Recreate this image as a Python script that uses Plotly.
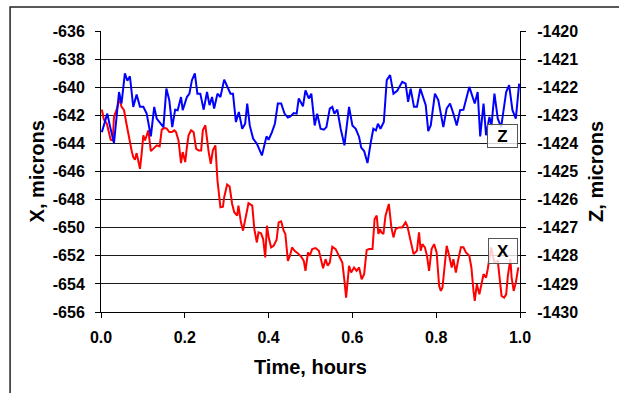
import plotly.graph_objects as go

# ---- data ----
time_x = [0.002, 0.007, 0.014, 0.018, 0.023, 0.028, 0.031, 0.038, 0.044, 0.049,
          0.055, 0.060, 0.065, 0.069, 0.073, 0.077, 0.081, 0.085, 0.089, 0.093,
          0.097, 0.101, 0.105, 0.109, 0.113, 0.119, 0.125, 0.133, 0.140, 0.145,
          0.151, 0.157, 0.163, 0.169, 0.175, 0.179, 0.185, 0.191, 0.195, 0.201,
          0.205, 0.209, 0.215, 0.221, 0.227, 0.233, 0.239, 0.243, 0.249, 0.253,
          0.257, 0.262, 0.267, 0.273, 0.278, 0.285, 0.291, 0.294, 0.301, 0.307,
          0.313, 0.318, 0.325, 0.328, 0.334, 0.339, 0.344, 0.352, 0.361, 0.366,
          0.372, 0.376, 0.382, 0.387, 0.392, 0.396, 0.400, 0.406, 0.412, 0.419,
          0.424, 0.430, 0.436, 0.440, 0.446, 0.451, 0.456, 0.462, 0.470, 0.478,
          0.484, 0.488, 0.494, 0.498, 0.504, 0.512, 0.520, 0.526, 0.530, 0.536,
          0.541, 0.546, 0.552, 0.560, 0.568, 0.576, 0.581, 0.585, 0.592, 0.597,
          0.604, 0.610, 0.616, 0.622, 0.628, 0.634, 0.640, 0.648, 0.653, 0.658,
          0.662, 0.666, 0.669, 0.674, 0.679, 0.687, 0.693, 0.698, 0.703, 0.711,
          0.719, 0.727, 0.731, 0.739, 0.746, 0.754, 0.759, 0.763, 0.767, 0.773,
          0.778, 0.783, 0.789, 0.795, 0.801, 0.807, 0.811, 0.815, 0.821, 0.825,
          0.831, 0.837, 0.841, 0.847, 0.852, 0.859, 0.865, 0.871, 0.879, 0.884,
          0.889, 0.892, 0.897, 0.903, 0.908, 0.913, 0.919, 0.923, 0.931, 0.939,
          0.947, 0.952, 0.956, 0.962, 0.967, 0.971, 0.977, 0.980, 0.985, 0.990,
          0.996]
x_microns = [-641.60, -642.31, -642.60, -643.07, -643.74, -643.79, -642.12, -641.52, -640.81, -641.40,
             -641.64, -642.48, -643.31, -643.67, -644.50, -644.98, -645.17, -644.69, -645.21, -645.81,
             -644.74, -643.43, -643.79, -643.43, -643.07, -644.55, -644.38, -644.14, -644.21, -643.02,
             -642.90, -642.95, -643.19, -643.19, -643.07, -643.19, -643.79, -645.40, -644.62, -645.33,
             -644.26, -643.43, -643.07, -643.19, -644.38, -644.50, -644.50, -643.07, -642.71, -643.91,
             -644.62, -645.45, -644.50, -644.14, -646.64, -648.55, -648.50, -647.83, -646.93, -647.07,
             -648.31, -648.90, -649.14, -648.43, -649.62, -650.21, -649.38, -648.26, -648.43, -650.10,
             -651.05, -650.33, -650.40, -650.81, -652.12, -649.86, -650.64, -651.40, -651.29, -650.88,
             -649.62, -649.55, -650.21, -650.45, -652.36, -652.00, -651.40, -651.64, -651.83, -652.07,
             -652.36, -653.07, -651.76, -652.00, -651.52, -651.45, -651.64, -652.36, -652.88, -652.24,
             -652.71, -652.48, -651.36, -651.52, -652.00, -652.48, -653.79, -654.98, -652.71, -653.19,
             -652.83, -653.07, -652.83, -653.67, -653.31, -651.60, -651.52, -651.52, -649.38, -649.14,
             -650.45, -650.10, -650.33, -650.45, -649.14, -648.31, -649.98, -650.69, -650.10, -649.98,
             -649.98, -649.62, -649.86, -650.93, -651.88, -651.64, -650.33, -651.64, -651.17, -651.40,
             -652.00, -653.07, -651.52, -651.17, -651.76, -654.14, -654.50, -654.26, -652.36, -651.29,
             -652.00, -652.83, -652.24, -653.19, -652.36, -651.40, -651.40, -651.76, -652.00, -652.83,
             -654.50, -655.21, -654.02, -654.74, -654.02, -653.31, -653.55, -652.95, -651.40, -652.48,
             -652.36, -653.55, -654.86, -654.98, -654.74, -653.43, -652.24, -653.55, -654.50, -653.91,
             -652.83]

time_z = [0.002, 0.015, 0.022, 0.031, 0.043, 0.049, 0.057, 0.063, 0.069, 0.077,
          0.085, 0.093, 0.101, 0.109, 0.119, 0.127, 0.133, 0.143, 0.149, 0.156,
          0.163, 0.170, 0.177, 0.183, 0.191, 0.195, 0.205, 0.211, 0.217, 0.224,
          0.230, 0.237, 0.245, 0.253, 0.259, 0.265, 0.270, 0.278, 0.285, 0.294,
          0.302, 0.309, 0.315, 0.322, 0.329, 0.337, 0.344, 0.349, 0.355, 0.363,
          0.372, 0.384, 0.395, 0.400, 0.408, 0.415, 0.422, 0.430, 0.438, 0.446,
          0.452, 0.460, 0.467, 0.472, 0.482, 0.488, 0.496, 0.502, 0.510, 0.516,
          0.524, 0.532, 0.538, 0.546, 0.552, 0.557, 0.564, 0.572, 0.581, 0.592,
          0.600, 0.608, 0.616, 0.621, 0.628, 0.636, 0.644, 0.650, 0.656, 0.661,
          0.667, 0.675, 0.682, 0.690, 0.698, 0.707, 0.719, 0.727, 0.733, 0.739,
          0.747, 0.754, 0.762, 0.770, 0.775, 0.781, 0.787, 0.797, 0.805, 0.811,
          0.817, 0.825, 0.833, 0.841, 0.849, 0.857, 0.865, 0.879, 0.887, 0.892,
          0.899, 0.905, 0.913, 0.919, 0.927, 0.932, 0.939, 0.947, 0.955, 0.967,
          0.974, 0.982, 0.990, 0.998]
z_microns = [-1423.60, -1422.94, -1423.42, -1423.99, -1422.17, -1422.58, -1421.51, -1421.77, -1421.61, -1422.70,
             -1422.26, -1422.70, -1422.70, -1422.94, -1423.75, -1422.70, -1423.12, -1423.30, -1423.42, -1422.05,
             -1422.46, -1423.42, -1422.80, -1422.82, -1422.35, -1422.82, -1422.35, -1422.23, -1421.75, -1421.51,
             -1422.23, -1422.23, -1422.80, -1422.17, -1422.64, -1422.35, -1422.76, -1422.23, -1422.35, -1421.73,
             -1421.99, -1422.23, -1422.23, -1423.24, -1422.88, -1423.48, -1423.30, -1422.58, -1423.36, -1423.83,
             -1424.01, -1424.43, -1423.75, -1423.87, -1423.60, -1423.30, -1422.58, -1422.58, -1422.94, -1423.08,
             -1423.04, -1422.92, -1422.94, -1422.40, -1422.68, -1422.11, -1422.40, -1422.23, -1423.36, -1422.94,
             -1423.48, -1423.51, -1423.42, -1422.76, -1422.70, -1422.94, -1422.80, -1423.48, -1424.07, -1422.70,
             -1423.36, -1423.48, -1423.77, -1424.15, -1424.27, -1424.70, -1423.95, -1423.48, -1423.54, -1423.30,
             -1423.48, -1423.24, -1421.75, -1421.57, -1422.23, -1422.13, -1421.81, -1421.87, -1422.52, -1422.05,
             -1422.70, -1422.70, -1422.05, -1422.40, -1422.64, -1423.56, -1423.36, -1422.23, -1422.46, -1422.94,
             -1423.42, -1422.76, -1422.58, -1422.94, -1423.36, -1422.82, -1422.80, -1421.99, -1422.35, -1422.58,
             -1422.17, -1423.75, -1422.58, -1423.71, -1423.06, -1423.36, -1422.23, -1423.12, -1423.42, -1422.17,
             -1421.93, -1422.82, -1423.12, -1421.87]

x_ticks = [0.0, 0.2, 0.4, 0.6, 0.8, 1.0]
x_tick_labels = ["0.0", "0.2", "0.4", "0.6", "0.8", "1.0"]
left_ticks = [-656, -654, -652, -650, -648, -646, -644, -642, -640, -638, -636]
left_tick_labels = ["-656", "-654", "-652", "-650", "-648", "-646", "-644", "-642", "-640", "-638", "-636"]
right_ticks = [-1430, -1429, -1428, -1427, -1426, -1425, -1424, -1423, -1422, -1421, -1420]
right_tick_labels = ["-1430", "-1429", "-1428", "-1427", "-1426", "-1425", "-1424", "-1423", "-1422", "-1421", "-1420"]

x_title = "Time, hours"
y_title = "X, microns"
y2_title = "Z, microns"
series_labels = ["X", "Z"]

FONT = "Liberation Sans, Arial, sans-serif"
tickfont = dict(family=FONT, size=16, color="black", weight="bold")

fig = go.Figure()
fig.add_trace(go.Scatter(x=time_x, y=x_microns, mode="lines", name=series_labels[0],
                         line=dict(color="#ff0000", width=2), yaxis="y"))
fig.add_trace(go.Scatter(x=time_z, y=z_microns, mode="lines", name=series_labels[1],
                         line=dict(color="#0000ff", width=2), yaxis="y2"))

fig.update_layout(
    width=619, height=393,
    margin=dict(l=101, r=99, t=31, b=81),
    paper_bgcolor="white", plot_bgcolor="white",
    showlegend=False,
    font=dict(family=FONT, color="black"),
    xaxis=dict(range=[0, 1], tickvals=x_ticks, ticktext=x_tick_labels,
               showgrid=False, zeroline=False, showline=True, linecolor="black", linewidth=1,
               ticks="outside", ticklen=5, tickcolor="black", tickfont=tickfont,
               ticklabelstandoff=6),
    yaxis=dict(range=[-656, -636], tickvals=left_ticks, ticktext=left_tick_labels,
               showgrid=True, gridcolor="#1a1a1a", gridwidth=1, zeroline=False,
               showline=True, linecolor="black", linewidth=1,
               ticks="outside", ticklen=5, tickcolor="black", tickfont=tickfont,
               ticklabelstandoff=7),
    yaxis2=dict(range=[-1430, -1420], tickvals=right_ticks, ticktext=right_tick_labels,
                overlaying="y", side="right",
                showgrid=False, zeroline=False, showline=True, linecolor="black", linewidth=1,
                ticks="outside", ticklen=5, tickcolor="black", tickfont=tickfont,
                ticklabelstandoff=8),
)

titlefont = dict(family=FONT, size=20, color="black", weight="bold")
fig.add_annotation(text=x_title, xref="paper", yref="paper", x=0.5, y=-0.195,
                   showarrow=False, font=titlefont, xanchor="center", yanchor="middle")
fig.add_annotation(text=y_title, xref="paper", yref="paper", x=-0.153, y=0.5,
                   textangle=-90, showarrow=False, font=titlefont, xanchor="center", yanchor="middle")
fig.add_annotation(text=y2_title, xref="paper", yref="paper", x=1.18, y=0.5,
                   textangle=-90, showarrow=False, font=titlefont, xanchor="center", yanchor="middle")

# series label boxes
boxfont = dict(family=FONT, size=17, color="black", weight="bold")
fig.add_annotation(text=series_labels[1], x=0.959, y=-643.5, xref="x", yref="y",
                   showarrow=False, font=boxfont, bgcolor="rgba(255,255,255,0.8)",
                   bordercolor="#555", borderwidth=1, width=27, height=20)
fig.add_annotation(text=series_labels[0], x=0.959, y=-651.64, xref="x", yref="y",
                   showarrow=False, font=boxfont, bgcolor="rgba(255,255,255,0.8)",
                   bordercolor="#555", borderwidth=1, width=26, height=22)

# outer chart frame (extends past the right and bottom of the view)
fig.add_shape(type="rect", xref="paper", yref="paper", x0=-0.217, x1=1.3, y0=-0.4, y1=1.085,
              line=dict(color="#222", width=1.5), fillcolor="rgba(0,0,0,0)", layer="below")

fig.write_html("out.html")
